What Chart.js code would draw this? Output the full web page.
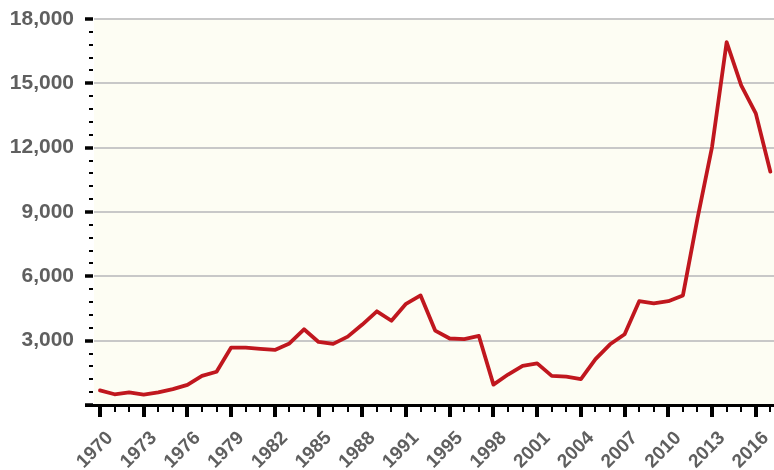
<!DOCTYPE html>
<html>
<head>
<meta charset="utf-8">
<script src="https://cdn.jsdelivr.net/npm/chart.js@4"></script>
<style>
  html, body { margin: 0; padding: 0; background: #ffffff; }
  #wrap { width: 774px; height: 470px; }
</style>
</head>
<body>
<div id="wrap"><canvas id="c" width="774" height="470"></canvas></div>
<script>
// Years (one year, 1992, absent from the series)
const years = [1970,1971,1972,1973,1974,1975,1976,1977,1978,1979,1980,1981,1982,1983,1984,1985,1986,1987,1988,1989,1990,1991,
               1993,1994,1995,1996,1997,1998,1999,2000,2001,2002,2003,2004,2005,2006,2007,2008,2009,2010,2011,2012,2013,2014,2015,2016,2017];
const values = [680,500,590,480,590,740,940,1360,1550,2680,2680,2620,2570,2870,3530,2940,2850,3190,3750,4370,3930,4720,
                5110,3470,3100,3070,3220,950,1420,1830,1940,1360,1320,1210,2140,2830,3300,4840,4740,4840,5110,8700,12040,16920,14900,13600,10880];
const yTicks = [0,3000,6000,9000,12000,15000,18000];
const labelEvery = 3;
const yMinorStep = 600;

const points = values.map((v, i) => ({ x: i, y: v }));

const decor = {
  id: 'decor',
  beforeDraw(chart) {
    const { ctx, chartArea: a } = chart;
    ctx.save();
    ctx.fillStyle = '#fdfdf3';
    ctx.fillRect(a.left, a.top, a.right - a.left, a.bottom - a.top);
    ctx.restore();
  },
  afterDraw(chart) {
    const { ctx, chartArea: a, scales } = chart;
    const xs = scales.x, ys = scales.y;
    ctx.save();
    ctx.strokeStyle = '#000';
    ctx.lineCap = 'butt';
    // y ticks
    for (let v = 0; v <= yTicks[yTicks.length - 1]; v += yMinorStep) {
      const py = Math.round(ys.getPixelForValue(v));
      const major = yTicks.includes(v);
      ctx.lineWidth = major ? 3.5 : 2;
      ctx.beginPath();
      ctx.moveTo(major ? a.left - 9 : a.left - 5, py);
      ctx.lineTo(a.left - 1, py);
      ctx.stroke();
    }
    // x axis line
    ctx.lineWidth = 3;
    ctx.beginPath();
    ctx.moveTo(a.left - 9, a.bottom + 0.5);
    ctx.lineTo(chart.width, a.bottom + 0.5);
    ctx.stroke();
    // x ticks
    years.forEach((y, i) => {
      const px = Math.round(xs.getPixelForValue(i));
      const major = i % labelEvery === 0;
      ctx.lineWidth = major ? 4 : 2;
      ctx.beginPath();
      ctx.moveTo(px, a.bottom + 1);
      ctx.lineTo(px, a.bottom + (major ? 12 : 7));
      ctx.stroke();
    });
    ctx.restore();
  }
};

new Chart(document.getElementById('c'), {
  type: 'line',
  data: {
    datasets: [{
      data: points,
      borderColor: '#c0171e',
      borderWidth: 3.8,
      pointRadius: 0,
      tension: 0,
      borderJoinStyle: 'round',
      borderCapStyle: 'round',
      clip: false
    }]
  },
  options: {
    responsive: false,
    animation: false,
    layout: { padding: { top: 19, right: 0, left: 0, bottom: 0 } },
    plugins: { legend: { display: false }, tooltip: { enabled: false } },
    scales: {
      x: {
        type: 'linear',
        min: -0.41,
        max: 46.25,
        afterBuildTicks(scale) {
          scale.ticks = years.map((y, i) => i).filter(i => i % labelEvery === 0).map(i => ({ value: i }));
        },
        afterFit(scale) { scale.height = 65; scale.paddingLeft = 0; scale.paddingRight = 0; scale.paddingTop = 0; scale.paddingBottom = 0; },
        grid: { display: false, drawTicks: false },
        border: { display: false },
        ticks: {
          autoSkip: false,
          minRotation: 45,
          maxRotation: 45,
          padding: 22,
          labelOffset: 10,
          color: '#5f5f5f',
          font: { family: '"Liberation Sans", Arial, sans-serif', size: 19, weight: 'bold' },
          callback: (v) => String(years[v])
        }
      },
      y: {
        min: 0,
        max: 18000,
        afterBuildTicks(scale) { scale.ticks = yTicks.map(v => ({ value: v })); },
        afterFit(scale) { scale.width = 94; scale.paddingTop = 0; scale.paddingBottom = 0; },
        grid: { color: '#c8c8c8', lineWidth: 2, drawTicks: false },
        border: { display: false },
        ticks: {
          padding: 20,
          color: '#5f5f5f',
          font: { family: '"Liberation Sans", Arial, sans-serif', size: 21, weight: 'bold' },
          callback: (v) => v === 0 ? '' : v.toLocaleString('en-US')
        }
      }
    }
  },
  plugins: [decor]
});
</script>
</body>
</html>
